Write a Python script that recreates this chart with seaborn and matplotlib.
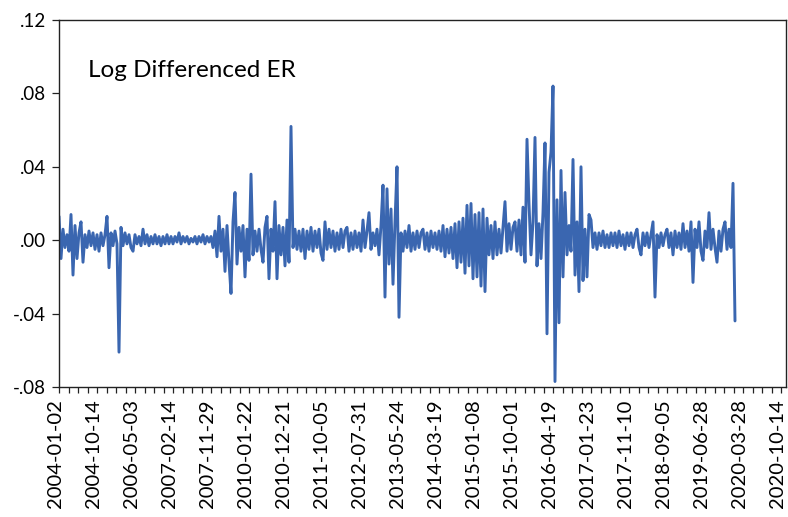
import numpy as np
import pandas as pd
import matplotlib
matplotlib.use("Agg")
import matplotlib.pyplot as plt
import matplotlib.transforms as mtransforms
from matplotlib.ticker import FixedLocator, FixedFormatter
import seaborn as sns

# ---- data (one value per ~2 px column) ----
er_seg00 = [.013, -.010, .006, -.004, .003, -.006, .014, -.019, .008, -.010, .004, .010, -.012, .003, -.004, .005, -.003, .004, -.005]
er_seg01 = [.003, -.006, .004, -.003, .003, .013, -.015, .004, -.003, .005, -.002, -.061, .007, -.003, .004, -.002, .003, -.004, -.006]
er_seg02 = [.003, -.002, .002, -.003, .006, -.002, .003, -.003, .002, -.002, .003, -.002, .002, -.003, .002, -.002, .003, -.002, .002]
er_seg03 = [-.002, .002, -.001, .004, -.002, .002, -.001, .002, -.002, .001, -.001, .002, -.002, .002, -.001, .003, -.002, .002, -.001]
er_seg04 = [.002, -.004, .005, -.009, .013, -.006, .006, -.017, .008, -.012, -.029, .010, .026, -.013, .007, -.006, .008, -.020, .006]
er_seg05 = [-.011, .036, -.008, .005, -.006, .006, -.005, -.012, .007, .013, -.021, .006, -.006, .021, -.021, .008, -.008, .007, -.014]
er_seg06 = [.011, -.012, .062, -.004, .006, -.005, .005, -.006, .006, -.010, .005, -.005, .007, -.006, .005, -.004, .006, -.007, -.011]
er_seg07 = [.010, -.005, .006, -.004, .005, -.006, .004, -.005, .006, -.004, .005, .007, -.006, .004, -.005, .005, -.004, .004, -.006]
er_seg08 = [.011, -.004, .005, .015, -.005, .004, -.003, .006, -.008, .008, .030, -.031, .028, -.013, .017, -.024, .010, .040, -.042]
er_seg09 = [.004, -.006, .005, -.004, .008, -.006, .004, -.005, .005, -.004, .004, .006, -.005, .004, -.006, .005, -.004, .004, -.005]
er_seg10 = [.005, -.006, .008, -.009, .006, -.007, .007, -.010, .009, -.015, .010, -.012, .012, -.018, .019, -.014, .020, -.021, .014]
er_seg11 = [-.020, .015, -.025, .017, -.028, .012, -.008, .008, -.010, .010, -.008, .006, -.007, .007, .021, -.006, .009, -.005, .007]
er_seg12 = [.010, -.006, .011, -.008, .018, -.012, .055, .020, -.008, .010, .056, -.014, .009, -.010, .015, .053, -.051, .037, .048]
er_seg13 = [.084, -.077, .022, -.045, .038, -.020, .026, -.008, .008, -.006, .044, -.019, .010, -.028, .040, -.022, .006, -.020, .014]
er_seg14 = [.011, -.004, .004, -.005, .004, -.003, .005, -.004, .003, -.004, .004, -.003, .004, -.004, .005, -.003, .003, -.005, .004]
er_seg15 = [-.003, .004, -.004, .003, .006, -.004, -.008, .004, -.003, .004, -.004, .003, .010, -.031, .003, -.004, .004, -.003, .003]
er_seg16 = [.006, -.004, .004, -.008, .005, -.004, .004, -.005, .009, -.004, .005, -.006, .010, -.023, .006, -.004, .010, -.006, -.011]
er_seg17 = [.005, -.004, .015, -.005, .006, -.004, -.012, .005, -.006, .006, .010, -.005, .006, -.004, .031, -.044]

date_labels = ["2004-01-02", "2004-10-14", "2006-05-03", "2007-02-14", "2007-11-29",
               "2010-01-22", "2010-12-21", "2011-10-05", "2012-07-31", "2013-05-24",
               "2014-03-19", "2015-01-08", "2015-10-01", "2016-04-19", "2017-01-23",
               "2017-11-10", "2018-09-05", "2019-06-28", "2020-03-28", "2020-10-14"]
y_tick_values = [-0.08, -0.04, 0.00, 0.04, 0.08, 0.12]
y_tick_labels = ["-.08", "-.04", ".00", ".04", ".08", ".12"]
series_title = "Log Differenced ER"

er_values = (er_seg00 + er_seg01 + er_seg02 + er_seg03 + er_seg04 + er_seg05 + er_seg06
             + er_seg07 + er_seg08 + er_seg09 + er_seg10 + er_seg11 + er_seg12 + er_seg13
             + er_seg14 + er_seg15 + er_seg16 + er_seg17)
df = pd.DataFrame({"obs": np.arange(len(er_values)), "er": er_values})

# ---- styling ----
sns.set_theme(style="ticks")
plt.rcParams["font.family"] = ["Lato", "DejaVu Sans"]

fig = plt.figure(figsize=(7.88, 5.17), dpi=100)
ax = fig.add_axes([59 / 788, 1 - 387 / 517, (786 - 59) / 788, (387 - 20) / 517])

line_color = "#3A66B0"
sns.lineplot(data=df, x="obs", y="er", ax=ax, color=line_color, linewidth=2.1,
             estimator=None, sort=False)
ax.lines[0].set_solid_joinstyle("round")

step = 19  # observations between labelled ticks
label_pos = [step * k for k in range(len(date_labels))]
minor_pos = [step * k / 4 for k in range(4 * len(date_labels) + 1)]

ax.set_xlim(0, 363.5)
ax.set_ylim(-0.08, 0.12)
ax.xaxis.set_major_locator(FixedLocator(label_pos))
ax.xaxis.set_major_formatter(FixedFormatter(date_labels))
ax.xaxis.set_minor_locator(FixedLocator(minor_pos))
ax.yaxis.set_major_locator(FixedLocator(y_tick_values))
ax.yaxis.set_major_formatter(FixedFormatter(y_tick_labels))

for s in ax.spines.values():
    s.set_visible(True)
    s.set_color("#222222")
    s.set_linewidth(1.0)

ax.tick_params(axis="x", which="both", direction="out", length=4, width=0.9,
               color="#222222", labelsize=14.5, labelrotation=90, pad=5,
               labelcolor="black")
ax.tick_params(axis="y", which="major", direction="out", length=5, width=0.9,
               color="#222222", labelsize=13.5, pad=4.5, labelcolor="black")
ax.set_xlabel("")
ax.set_ylabel("")
ax.grid(False)

shift = mtransforms.ScaledTranslation(-3 / 100, 0, fig.dpi_scale_trans)
for lab in ax.get_xticklabels():
    lab.set_transform(lab.get_transform() + shift)

ax.text(0.040, 0.845, series_title, transform=ax.transAxes, fontsize=17.5,
        color="black", ha="left", va="baseline")

fig.savefig("out.png", dpi=100)
